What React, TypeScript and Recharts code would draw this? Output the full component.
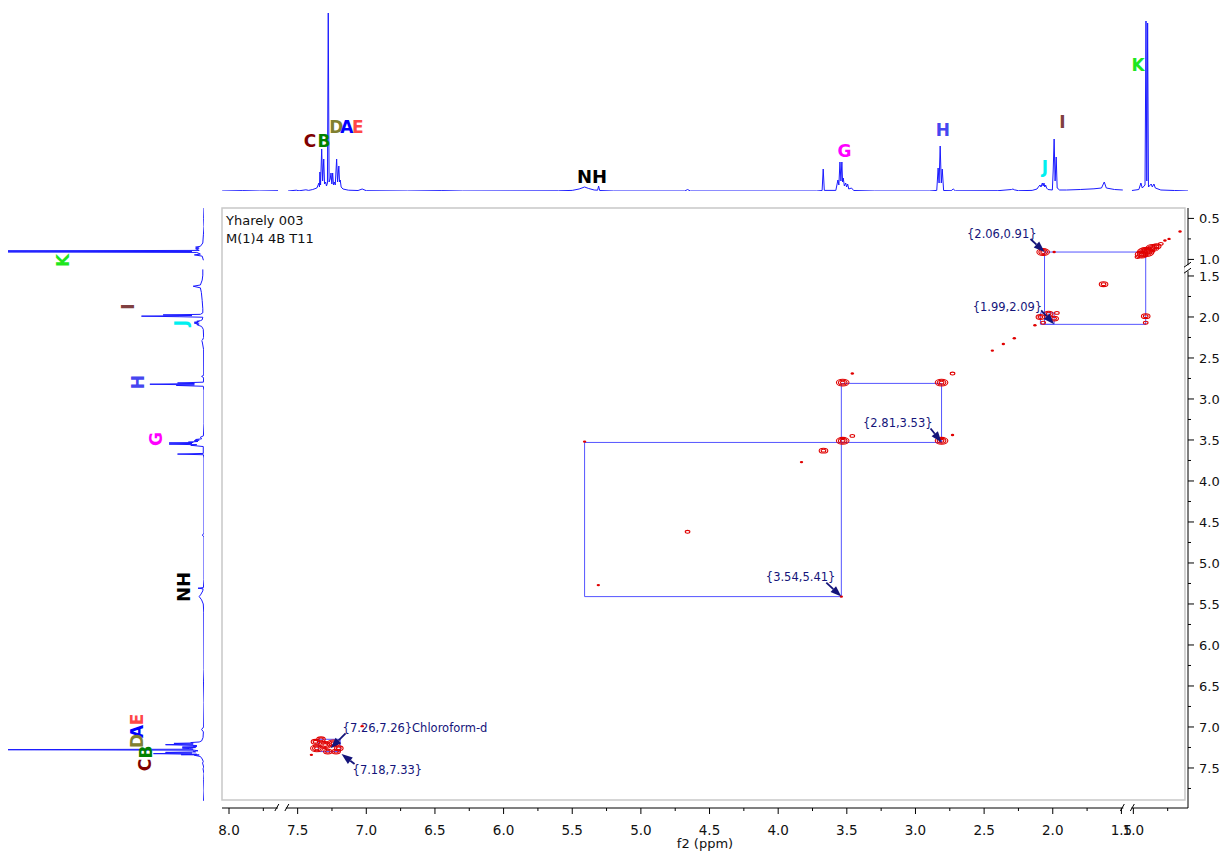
import React from 'react';
import { ScatterChart, Scatter, XAxis, YAxis, ReferenceArea } from 'recharts';

// both ppm axes are cut: the high-field end (< ~1.2 ppm) is slid up against 1.5 ppm
const CUT = 1.25;
const fx = (p: number) => (p < CUT ? p + 0.413 : p);
const fy = (p: number) => (p < CUT ? p + 0.298 : p);

const X_DOMAIN = [1.015, 8.051];
const Y_DOMAIN = [0.671, 7.988];

// 1H trace (ppm, intensity)
const SPECTRUM: [number, number][] = [
  [8.05, 0], [7.9, 0.4], [7.78, 0], [7.643, 0.3],
  [7.57, 0], [7.51, 0.8], [7.49, 0.2], [7.44, 1.2], [7.42, 0.6], [7.39, 1.5], [7.36, 3],
  [7.345, 8], [7.341, 4], [7.338, 19], [7.333, 6], [7.325, 42], [7.318, 10], [7.31, 32], [7.304, 7],
  [7.296, 9], [7.29, 5], [7.283, 8], [7.277, 178], [7.271, 9], [7.263, 12], [7.257, 18], [7.251, 7],
  [7.245, 18], [7.239, 6], [7.233, 9], [7.226, 6], [7.216, 32], [7.209, 9], [7.2, 25], [7.195, 9],
  [7.19, 11], [7.183, 4], [7.17, 2], [7.13, 0.8], [7.06, 0.5], [7.03, 2], [7.0, 0.3],
  [6.7, 0], [6.45, 0.4], [6.3, 0], [5.6, 0.2], [5.5, 0.6], [5.45, 2], [5.41, 4], [5.38, 2.5], [5.34, 1],
  [5.315, 0.8], [5.308, 5], [5.3, 0.5], [5.2, 0],
  [4.68, 0], [4.66, 1.5], [4.64, 0],
  [3.72, 0], [3.68, 0.5], [3.672, 22], [3.664, 0.6], [3.58, 0.6], [3.565, 11], [3.558, 6], [3.55, 29],
  [3.543, 10], [3.536, 29], [3.531, 9], [3.526, 13], [3.518, 5], [3.508, 8], [3.502, 4], [3.494, 7],
  [3.486, 2], [3.466, 3], [3.45, 0.5], [3.3, 0],
  [2.9, 0], [2.845, 0.6], [2.835, 23], [2.828, 8], [2.82, 45], [2.812, 8], [2.805, 22], [2.795, 0.5],
  [2.74, 0.3], [2.725, 2], [2.71, 0.2],
  [2.4, 0.3], [2.3, 1.5], [2.29, 2], [2.28, 1.2], [2.25, 0.3], [2.15, 0.6], [2.115, 2], [2.105, 4],
  [2.093, 6], [2.086, 4], [2.076, 8], [2.07, 5], [2.064, 8], [2.058, 4], [2.052, 6], [2.045, 3],
  [2.035, 1.5], [2.003, 1], [1.997, 20], [1.99, 52], [1.983, 10], [1.975, 34], [1.968, 3], [1.95, 1],
  [1.9, 1], [1.8, 1.5], [1.7, 2.2], [1.645, 3], [1.625, 9], [1.61, 3], [1.55, 1.5], [1.49, 1], [1.42, 1],
  [1.01, 0.5], [0.96, 1.5], [0.945, 8], [0.935, 3], [0.915, 6], [0.908, 170], [0.902, 10], [0.896, 168],
  [0.89, 4], [0.87, 7], [0.862, 4], [0.85, 7], [0.84, 3], [0.8, 1], [0.7, 0.5], [0.6, 0], [0.5, 0.3], [0.37, 0],
];

// pieces of the trace that are drawn (ppm ranges), gaps are the axis cuts
const TOP_SEGMENTS = [[7.643, 8.05], [1.49, 7.57], [0.6, 1.01]];
const LEFT_SEGMENTS = [[0.37, 1.01], [1.42, 7.9]];

// multiplet letters on the top trace: ppm, height
const TOP_LETTERS = ['C', 'B', 'D', 'A', 'E', 'NH', 'G', 'H', 'J', 'I', 'K'];
const TOP_LETTER_PPM = [7.41, 7.308, 7.219, 7.141, 7.062, 5.356, 3.517, 2.8, 2.057, 1.93, 0.966];
const TOP_LETTER_H = [44, 44, 58, 58, 58, 8, 34, 55, 18, 63, 120];

// same letters on the side trace
const SIDE_LETTERS = ['K', 'I', 'J', 'H', 'G', 'NH', 'E', 'A', 'D', 'B', 'C'];
const SIDE_LETTER_PPM = [1.013, 1.874, 2.073, 2.793, 3.488, 5.293, 6.909, 7.055, 7.171, 7.305, 7.463];
const SIDE_LETTER_H = [112, 58, 14, 50, 35, 12, 51, 51, 51, 43, 44];

const LETTER_COLOURS: Record<string, string> = {
  A: '#0000ff', B: '#008000', C: '#800000', D: '#808030', E: '#ff4848', G: '#ff00ff',
  H: '#4646f0', I: '#804040', J: '#00f0f0', K: '#1ee61e', NH: '#000000',
};

// COSY cross / diagonal peaks: f2, f1, contour levels
const CROSS_PEAKS: [number, number, number][] = [
  [0.97, 0.97, 1], [0.94, 0.94, 3], [0.91, 0.91, 4], [0.89, 0.89, 3], [0.86, 0.86, 3], [0.83, 0.84, 2],
  [0.8, 0.81, 1], [0.77, 0.77, 0], [0.74, 0.75, 0], [0.66, 0.66, 0],
  [2.07, 0.91, 3], [1.99, 0.91, 0], [0.91, 1.99, 2], [0.91, 2.07, 1], [1.63, 1.6, 2],
  [2.09, 2.0, 2], [2.03, 1.96, 2], [1.99, 2.02, 2], [1.97, 1.95, 1], [2.07, 2.07, 1], [2.13, 2.1, 0],
  [2.28, 2.26, 0], [2.36, 2.33, 0], [2.44, 2.41, 0],
  [3.53, 2.8, 3], [3.46, 2.69, 0], [2.81, 2.8, 3], [2.73, 2.69, 1],
  [3.53, 3.51, 3], [3.46, 3.45, 1], [2.81, 3.51, 3], [2.73, 3.44, 0],
  [3.67, 3.63, 2], [3.83, 3.77, 0], [4.66, 4.62, 1], [5.31, 5.27, 0], [5.41, 3.52, 0], [3.54, 5.41, 0],
  [7.36, 7.26, 3], [7.3, 7.22, 3], [7.24, 7.2, 3], [7.2, 7.26, 2], [7.33, 7.15, 2], [7.22, 7.3, 2],
  [7.28, 7.3, 2], [7.37, 7.18, 2], [7.4, 7.34, 0], [7.03, 6.99, 0],
];

// correlation boxes: f2 pair, f1 pair
const BOX_F2: [number, number][] = [[2.06, 0.91], [2.09, 1.99], [3.54, 2.81], [5.41, 3.54], [7.35, 7.19]];
const BOX_F1: [number, number][] = [[0.91, 2.09], [1.95, 2.09], [2.81, 3.53], [3.53, 5.41], [7.15, 7.3]];

// peak annotations
const ANNO_F2 = [2.06, 1.99, 2.81, 3.54, 7.26, 7.18];
const ANNO_F1 = [0.91, 2.09, 3.53, 5.41, 7.26, 7.33];
const ANNO_TEXT = ['{2.06,0.91}', '{1.99,2.09}', '{2.81,3.53}', '{3.54,5.41}', '{7.26,7.26}Chloroform-d', '{7.18,7.33}'];
// text offset / arrow tail offset from the marked point, in px
const ANNO_LAYOUT = [
  { tx: -8, ty: -14, anchor: 'end', ax: -14, ay: -13 },
  { tx: -12, ty: -13, anchor: 'end', ax: -13, ay: -14 },
  { tx: -9, ty: -15, anchor: 'end', ax: -11, ay: -14 },
  { tx: -6, ty: -16, anchor: 'end', ax: -15, ay: -14 },
  { tx: 12, ty: -16, anchor: 'start', ax: 15, ay: -15 },
  { tx: 11, ty: 20, anchor: 'start', ax: 13, ay: 10 },
];

// axis ticks (ppm)
const X_MAJOR = [8.0, 7.5, 7.0, 6.5, 6.0, 5.5, 5.0, 4.5, 4.0, 3.5, 3.0, 2.5, 2.0, 1.5, 1.0];
const X_MINOR = [7.75, 7.25, 6.75, 6.25, 5.75, 5.25, 4.75, 4.25, 3.75, 3.25, 2.75, 2.25, 1.75, 0.75];
const Y_MAJOR = [0.5, 1.0, 1.5, 2.0, 2.5, 3.0, 3.5, 4.0, 4.5, 5.0, 5.5, 6.0, 6.5, 7.0, 7.5];
const Y_MINOR = [0.75, 1.75, 2.25, 2.75, 3.25, 3.75, 4.25, 4.75, 5.25, 5.75, 6.25, 6.75, 7.25, 7.75];
const X_BREAKS = [7.615, 1.457];
const Y_BREAKS = [1.405];

const SPEC_BLUE = '#1a1aff';
const BOX_BLUE = '#5555ff';
const RED = '#e00000';
const NAVY = '#14147a';
const FONT = '"DejaVu Sans", Verdana, sans-serif';

const xTickLabel = new Map<number, string>(X_MAJOR.map((p) => [fx(p), p.toFixed(1)]));
const yTickLabel = new Map<number, string>(Y_MAJOR.map((p) => [fy(p), p.toFixed(1)]));
const xTicks = [...X_MAJOR.map(fx), ...X_MINOR.map(fx), ...X_BREAKS];
const yTicks = [...Y_MAJOR.map(fy), ...Y_MINOR.map(fy), ...Y_BREAKS];

const topSegs = TOP_SEGMENTS.map(([lo, hi]) =>
  SPECTRUM.filter(([p]) => p >= lo && p <= hi).map(([p, v]) => ({ x: fx(p), y: v }))
);
const leftSegs = LEFT_SEGMENTS.map(([lo, hi]) =>
  SPECTRUM.filter(([p]) => p >= lo && p <= hi).map(([p, v]) => ({ x: v, y: fy(p) }))
);
const topLetters = TOP_LETTERS.map((t, i) => ({ x: fx(TOP_LETTER_PPM[i]), y: TOP_LETTER_H[i], t }));
const sideLetters = SIDE_LETTERS.map((t, i) => ({ x: SIDE_LETTER_H[i], y: fy(SIDE_LETTER_PPM[i]), t }));
const peaks = CROSS_PEAKS.map(([a, b, level]) => ({ x: fx(a), y: fy(b), level }));
const annos = ANNO_TEXT.map((text, i) => ({ x: fx(ANNO_F2[i]), y: fy(ANNO_F1[i]), text, ...ANNO_LAYOUT[i] }));

const noDot = () => <g />;

const TopLetter = ({ cx, cy, payload }: any) => (
  <text x={cx} y={cy} textAnchor="middle" fontFamily={FONT} fontWeight="bold"
    fontSize={payload.t === 'NH' ? 18 : 17} fill={LETTER_COLOURS[payload.t]}>
    {payload.t}
  </text>
);

const SideLetter = ({ cx, cy, payload }: any) => (
  <text x={cx} y={cy} transform={`rotate(-90 ${cx} ${cy})`} textAnchor="middle" fontFamily={FONT}
    fontWeight="bold" fontSize={payload.t === 'NH' ? 18 : 17} fill={LETTER_COLOURS[payload.t]}>
    {payload.t}
  </text>
);

const Contour = ({ cx, cy, payload }: any) => {
  const n = payload.level;
  if (n === 0) return <ellipse cx={cx} cy={cy} rx={1.7} ry={1.2} fill={RED} />;
  const rings = [];
  for (let k = 0; k < n; k++) {
    rings.push(
      <ellipse key={k} cx={cx} cy={cy} rx={2.3 + 2 * k} ry={1.4 + 1.0 * k} fill="none" stroke={RED} strokeWidth={1.1} />
    );
  }
  return <g>{rings}</g>;
};

const Annotation = ({ cx, cy, payload }: any) => {
  const { text, tx, ty, anchor, ax, ay } = payload;
  const sx = cx + ax;
  const sy = cy + ay;
  const len = Math.hypot(cx - sx, cy - sy);
  const ux = (cx - sx) / len;
  const uy = (cy - sy) / len;
  const bx = cx - ux * 11;
  const by = cy - uy * 11;
  const head = `${cx},${cy} ${bx - uy * 4},${by + ux * 4} ${bx + uy * 4},${by - ux * 4}`;
  return (
    <g>
      <line x1={sx} y1={sy} x2={bx} y2={by} stroke={NAVY} strokeWidth={1.8} />
      <polygon points={head} fill={NAVY} />
      <text x={cx + tx} y={cy + ty} textAnchor={anchor} fontFamily={FONT} fontSize={11.5} fill={NAVY}>
        {text}
      </text>
    </g>
  );
};

const XTick = ({ x, y, payload }: any) => {
  const v = payload.value;
  if (X_BREAKS.includes(v)) {
    return (
      <g stroke="#000" strokeWidth={1}>
        <rect x={x - 4} y={y - 3} width={8} height={6} fill="#fff" stroke="none" />
        <line x1={x - 7} y1={y + 3} x2={x - 3} y2={y - 4} />
        <line x1={x + 3} y1={y + 3} x2={x + 7} y2={y - 4} />
      </g>
    );
  }
  const label = xTickLabel.get(v);
  return (
    <g>
      <line x1={x} y1={y} x2={x} y2={y + (label ? 6 : 3)} stroke="#000" />
      {label && (
        <text x={x} y={y + 27} textAnchor="middle" fontFamily={FONT} fontSize={13.5} fill="#111">
          {label}
        </text>
      )}
    </g>
  );
};

const YTick = ({ x, y, payload }: any) => {
  const v = payload.value;
  if (Y_BREAKS.includes(v)) {
    return (
      <g stroke="#000" strokeWidth={1}>
        <rect x={x - 3} y={y - 3} width={6} height={6} fill="#fff" stroke="none" />
        <line x1={x - 4} y1={y - 1} x2={x + 3} y2={y - 6} />
        <line x1={x - 4} y1={y + 5} x2={x + 3} y2={y} />
      </g>
    );
  }
  const label = yTickLabel.get(v);
  return (
    <g>
      <line x1={x} y1={y} x2={x + (label ? 6 : 3)} y2={y} stroke="#000" />
      {label && (
        <text x={x + 11} y={y + 5} textAnchor="start" fontFamily={FONT} fontSize={13} fill="#111">
          {label}
        </text>
      )}
    </g>
  );
};

export default function App() {
  return (
    <div style={{ position: 'absolute', left: 0, top: 0, width: 1225, height: 852, background: '#fff' }}>
      {/* top 1D projection */}
      <div style={{ position: 'absolute', left: 0, top: 0 }}>
        <ScatterChart width={1225} height={200} margin={{ top: 6, right: 37, bottom: 9, left: 222 }}>
          <XAxis type="number" dataKey="x" domain={X_DOMAIN} reversed hide allowDataOverflow />
          <YAxis type="number" dataKey="y" domain={[0, 185]} hide allowDataOverflow />
          {topSegs.map((d, i) => (
            <Scatter key={i} data={d} line={{ stroke: SPEC_BLUE, strokeWidth: 1 }} fill={SPEC_BLUE}
              shape={noDot} isAnimationActive={false} />
          ))}
          <Scatter data={topLetters} shape={TopLetter} isAnimationActive={false} />
        </ScatterChart>
      </div>

      {/* left 1D projection */}
      <div style={{ position: 'absolute', left: 0, top: 0 }}>
        <ScatterChart width={222} height={852} margin={{ top: 208, right: 18, bottom: 44, left: 8 }}>
          <XAxis type="number" dataKey="x" domain={[0, 163]} reversed hide allowDataOverflow />
          <YAxis type="number" dataKey="y" domain={Y_DOMAIN} reversed hide allowDataOverflow />
          {leftSegs.map((d, i) => (
            <Scatter key={i} data={d} line={{ stroke: SPEC_BLUE, strokeWidth: 1 }} fill={SPEC_BLUE}
              shape={noDot} isAnimationActive={false} />
          ))}
          <Scatter data={sideLetters} shape={SideLetter} isAnimationActive={false} />
        </ScatterChart>
      </div>

      {/* 2D COSY map */}
      <div style={{ position: 'absolute', left: 0, top: 0 }}>
        <ScatterChart width={1225} height={852} margin={{ top: 208, right: 0, bottom: 0, left: 222 }}>
          <XAxis type="number" dataKey="x" domain={X_DOMAIN} reversed allowDataOverflow ticks={xTicks}
            interval={0} tick={(p: any) => <XTick {...p} />} tickLine={false} tickSize={0} tickMargin={0}
            height={44} axisLine={{ stroke: '#000' }}
            label={{ value: 'f2 (ppm)', position: 'insideBottom', offset: 4, fill: '#111', fontSize: 13, fontFamily: FONT }} />
          <YAxis type="number" dataKey="y" domain={Y_DOMAIN} reversed allowDataOverflow orientation="right"
            width={37} ticks={yTicks} interval={0} tick={(p: any) => <YTick {...p} />} tickLine={false}
            tickSize={0} tickMargin={0} axisLine={{ stroke: '#000' }} />
          <ReferenceArea x1={X_DOMAIN[1]} x2={1.037} y1={Y_DOMAIN[0]} y2={7.89} fill="none"
            stroke="#c8c8c8" strokeWidth={1.5} />
          {BOX_F2.map((f2, i) => (
            <ReferenceArea key={i} x1={fx(f2[0])} x2={fx(f2[1])} y1={fy(BOX_F1[i][0])} y2={fy(BOX_F1[i][1])}
              fill="none" fillOpacity={0} stroke={BOX_BLUE} strokeWidth={1} />
          ))}
          <Scatter data={peaks} shape={Contour} isAnimationActive={false} />
          <Scatter data={annos} shape={Annotation} isAnimationActive={false} />
        </ScatterChart>
      </div>

      <div style={{ position: 'absolute', left: 226, top: 213, font: `13px ${FONT}`, color: '#111' }}>Yharely 003</div>
      <div style={{ position: 'absolute', left: 226, top: 231, font: `13px ${FONT}`, color: '#111' }}>M(1)4 4B T11</div>
    </div>
  );
}
